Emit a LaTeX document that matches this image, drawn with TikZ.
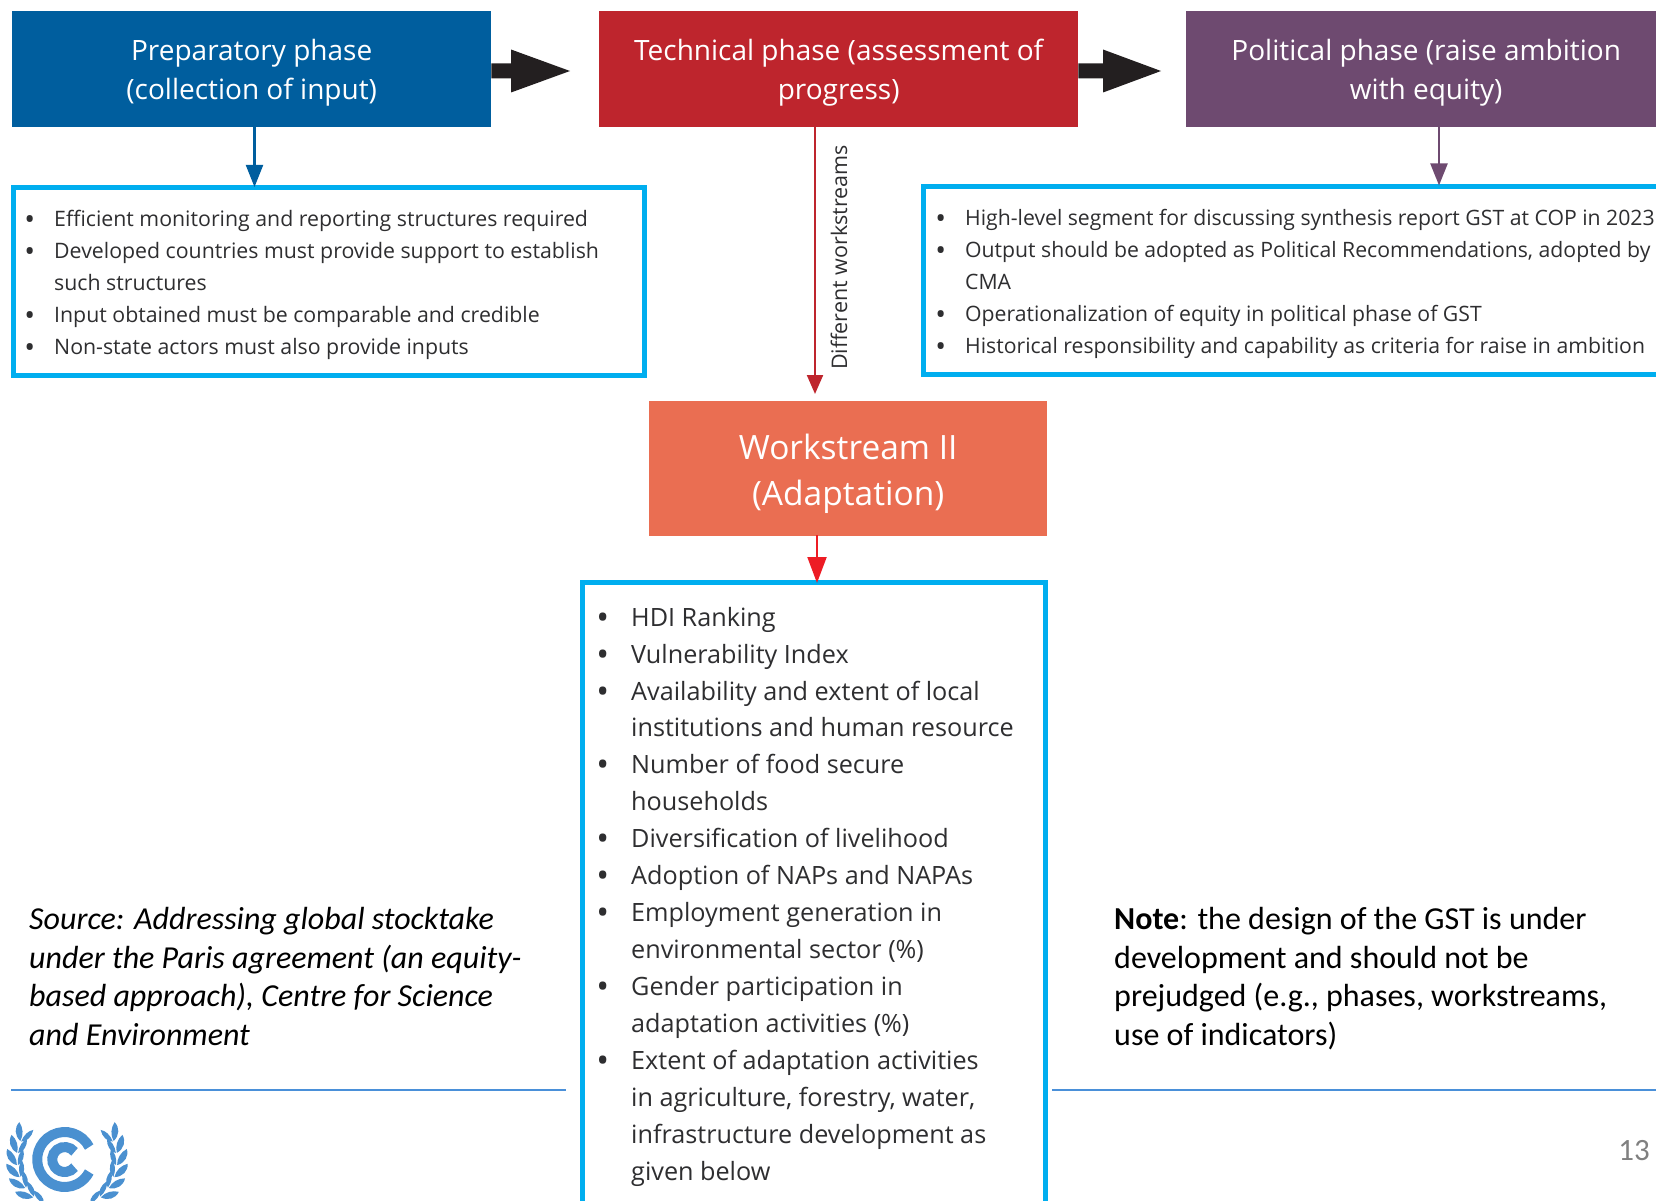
\documentclass[tikz,border=0pt]{standalone}
\usepackage{fontspec}
\usepackage{graphicx}
\setmainfont{Open Sans}
\newfontfamily\notefont{Carlito}
\usetikzlibrary{calc,arrows.meta}
\definecolor{prepblue}{HTML}{005E9E}
\definecolor{techred}{HTML}{BE252D}
\definecolor{polpurple}{HTML}{6E4A70}
\definecolor{wsorange}{HTML}{EA6E52}
\definecolor{boxcyan}{HTML}{00AEEF}
\definecolor{rulecol}{HTML}{4A90D9}
\definecolor{arrowdark}{HTML}{231F20}
\definecolor{bodytext}{HTML}{2E2E30}
\definecolor{logoblue}{HTML}{4A90D0}
\definecolor{pagegrey}{HTML}{808080}
\definecolor{wsred}{HTML}{ED1C24}
\newcommand{\fatarrow}[3]{%
  \fill[arrowdark] ($(#1)+(0,-7.5)$) -- ($(#2)+(-#3,-7.5)$) -- ($(#2)+(-#3,-21.5)$) -- (#2) -- ($(#2)+(-#3,21.5)$) -- ($(#2)+(-#3,7.5)$) -- ($(#1)+(0,7.5)$) -- cycle;}
\tikzset{
  phase/.style={anchor=north west,inner sep=0pt,text=white,align=center,font=\fontsize{28}{39.5}\selectfont},
  infobox/.style={anchor=north west,draw=boxcyan,line width=5pt,inner sep=0pt,fill=white},
  listtext/.style={anchor=north west,inner sep=0pt,text=bodytext,align=left},
  sidetext/.style={anchor=north west,inner sep=0pt,text=black,align=left,font=\notefont\fontsize{32}{38.6}\selectfont},
  thin rule/.style={draw=rulecol,line width=2.6pt},
  conn/.style={line width=2.1pt,shorten >=-1.5pt,-{Triangle[length=22pt,width=17pt]}},
}
\newcommand{\blist}[2]{\begin{tabular}{@{}p{#1}@{}l@{}}#2\end{tabular}}
\newcommand{\bu}{\hspace*{5.5pt}\makebox[0pt]{\raisebox{-.12em}{\scalebox{1.35}{\textbullet}}}}
\newcommand{\lift}[1]{\rule{0pt}{#1pt}}
\begin{document}
\begin{tikzpicture}[x=1pt,y=-1pt]
\useasboundingbox (0,0) rectangle (1656,1201);
\clip (0,0) rectangle (1656,1201);
% phase boxes
\node[phase,fill=prepblue,minimum width=479pt,minimum height=116pt] (prep) at (12,11) {\lift{28}Preparatory phase\\(collection of input)};
\node[phase,fill=techred,minimum width=479pt,minimum height=116pt] (tech) at (599,11) {\lift{28}Technical phase (assessment of\\progress)};
\node[phase,fill=polpurple,minimum width=480pt,minimum height=116pt] (pol) at (1186,11) {\lift{28}Political phase (raise ambition\\with equity)};
\coordinate (t1) at (570,71);
\coordinate (t2) at (1161,71);
\fatarrow{prep.east |- t1}{t1}{59}
\fatarrow{tech.east |- t2}{t2}{58}
% info boxes
\node[infobox,minimum width=631pt,minimum height=187pt] (lbox) at (10.5,185.5) {};
\node[infobox,minimum width=760pt,minimum height=188pt] (rbox) at (921,184) {};
\node[phase,fill=wsorange,minimum width=398pt,minimum height=135pt,font=\fontsize{33.5}{46}\selectfont] (ws) at (649,401) {\lift{36}Workstream II\\(Adaptation)};
\node[infobox,minimum width=463pt,minimum height=700pt] (cbox) at (580,580) {};
% connectors
\coordinate (prepa) at (254.5,127);
\coordinate (techa) at (815,127);
\coordinate (techb) at (815,394);
\coordinate (pola) at (1439,127);
\coordinate (wsa) at (817,535);
\draw[conn,draw=prepblue,fill=prepblue] (prepa) -- (prepa |- lbox.north);
\draw[conn,draw=techred,fill=techred,shorten >=0pt,-{Triangle[length=19pt,width=16pt]}] (techa) -- (techb);
\draw[conn,draw=polpurple,fill=polpurple] (pola) -- (pola |- rbox.north);
\draw[conn,draw=wsred,fill=wsred,shorten >=-3pt,-{Triangle[length=26pt,width=19pt]}] (wsa) -- (wsa |- cbox.north);
\node[anchor=west,rotate=90,inner sep=0pt,text=bodytext,font=\fontsize{21.5}{26}\selectfont] (diff) at (839,370) {Different workstreams};
% list texts
\node[listtext,font=\fontsize{21.3}{32}\selectfont] (ltext) at (24,204) {%
\blist{30pt}{\bu&Efficient monitoring and reporting structures required\\
\bu&Developed countries must provide support to establish\\
&such structures\\
\bu&Input obtained must be comparable and credible\\
\bu&Non-state actors must also provide inputs}};
\node[listtext,font=\fontsize{21.2}{32}\selectfont] (rtext) at (935,203) {%
\blist{30pt}{\bu&High-level segment for discussing synthesis report GST at COP in 2023\\
\bu&Output should be adopted as Political Recommendations, adopted by\\
&CMA\\
\bu&Operationalization of equity in political phase of GST\\
\bu&Historical responsibility and capability as criteria for raise in ambition}};
\node[listtext,font=\fontsize{25.2}{36.96}\selectfont] (ctext) at (597,600) {%
\blist{34pt}{\bu&HDI Ranking\\
\bu&Vulnerability Index\\
\bu&Availability and extent of local\\
&institutions and human resource\\
\bu&Number of food secure\\
&households\\
\bu&Diversification of livelihood\\
\bu&Adoption of NAPs and NAPAs\\
\bu&Employment generation in\\
&environmental sector (\%)\\
\bu&Gender participation in\\
&adaptation activities (\%)\\
\bu&Extent of adaptation activities\\
&in agriculture, forestry, water,\\
&infrastructure development as\\
&given below}};
% side notes
\node[sidetext] (src) at (29,907) {\itshape Source: Addressing global stocktake\\\itshape under the Paris agreement (an equity-\\\itshape based approach), Centre for Science\\\itshape and Environment};
\node[sidetext] (note) at (1114,907) {\textbf{Note}: the design of the GST is under\\development and should not be\\prejudged (e.g., phases, workstreams,\\use of indicators)};
\coordinate (r1a) at (11,1090); \coordinate (r1b) at (566,1090);
\coordinate (r2a) at (1052,1090); \coordinate (r2b) at (1656,1090);
\draw[thin rule] (r1a) -- (r1b);
\draw[thin rule] (r2a) -- (r2b);
\node[anchor=east,inner sep=0pt,text=pagegrey,font=\notefont\fontsize{31}{36}\selectfont] (pg) at (1650,1151) {13};
% logo: C emblem and laurel wreath
\begin{scope}[x=1pt,y=1pt,shift={(64.7pt,-1159.5pt)},logoblue]
\draw[line width=10pt] (27:27.5) arc[start angle=27,end angle=333,radius=27.5];
\draw[line width=10pt] (38:12.5) arc[start angle=38,end angle=322,radius=12.5];
\end{scope}
\foreach \sgn in {1,-1}{
\begin{scope}[x=1pt,y=1pt,shift={(67pt,-1160pt)},xscale=\sgn]
\foreach \a in {29,15,1,-13,-27,-41,-55}{
\fill[logoblue,rotate=\a] (50,-6) .. controls (58,-4) and (62,3) .. (60,10) .. controls (54,7) and (50,1) .. (50,-6) -- cycle;
\fill[logoblue,rotate=\a] (49,-6) .. controls (44,-3) and (42,3) .. (44,10) .. controls (48,7) and (50,1) .. (49,-6) -- cycle;
}
\end{scope}}
\end{tikzpicture}
\end{document}
